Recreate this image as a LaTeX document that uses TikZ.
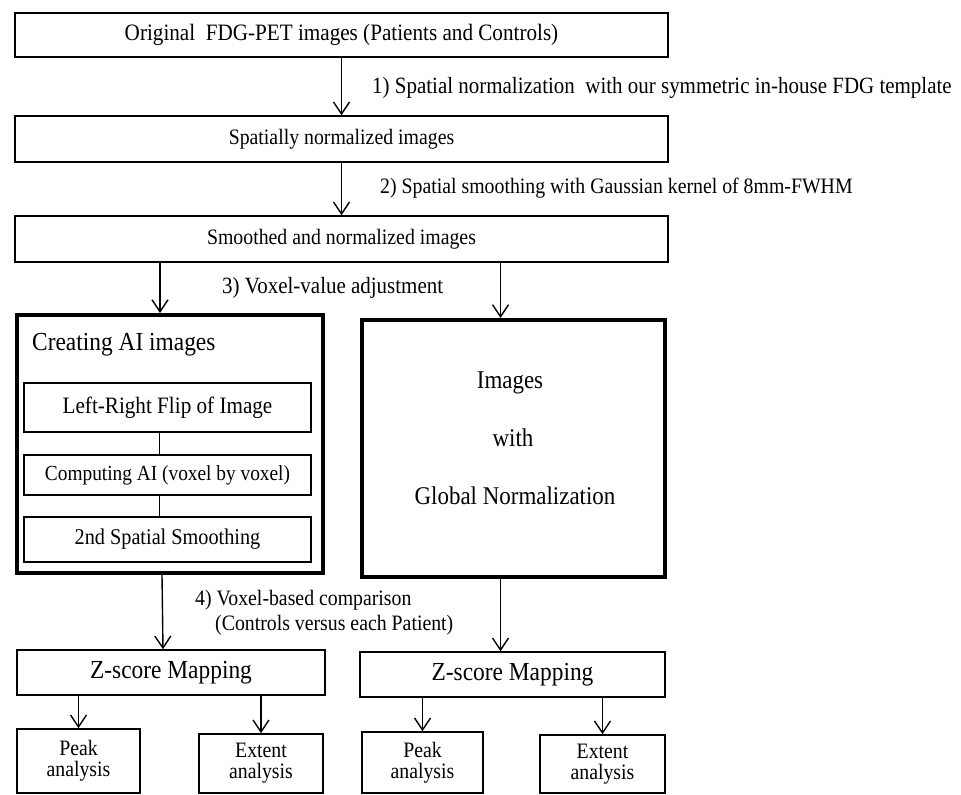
\documentclass[tikz,border=0pt]{standalone}
\usepackage{fontspec}
\setmainfont{Liberation Serif}[FakeStretch=0.9]
\usetikzlibrary{arrows.meta,positioning}

\begin{document}
\begin{tikzpicture}[
    x=1pt, y=-1pt,
    box/.style={draw=black, line width=1.5pt, inner sep=0pt, font=\fontsize{22}{26}\selectfont},
    big/.style={draw=black, line width=4pt, inner sep=0pt},
    inbox/.style={draw=black, line width=1.2pt, inner sep=0pt, minimum width=287},
    small/.style={draw=black, line width=1.6pt, inner sep=0pt, align=center, font=\fontsize{22}{21}\selectfont},
    txt/.style={inner sep=0pt, font=\fontsize{22}{26}\selectfont},
    arr/.style={-{Straight Barb[length=12pt,width=16pt]}, line width=1.4pt}]
  \useasboundingbox (0,0) rectangle (961,795);
  % main column
  \path (341.5,35)  node (b1) [box, minimum width=653, minimum height=44, font=\fontsize{23.5}{26}\selectfont] {Original\ \ FDG-PET images (Patients and Controls)}
        (341.5,139) node (b2) [box, minimum width=653, minimum height=46] {Spatially normalized images}
        (341.5,239) node (b3) [box, minimum width=653, minimum height=46] {Smoothed and normalized images};
  \path (372,88)  node (l1) [txt, anchor=west, font=\fontsize{23.3}{26}\selectfont] {1) Spatial normalization\ \ with our symmetric in-house FDG template}
        (380,188) node (l2) [txt, anchor=west] {2) Spatial smoothing with Gaussian kernel of 8mm-FWHM}
        (222,288) node (l3) [txt, anchor=west, font=\fontsize{23.3}{26}\selectfont] {3) Voxel-value adjustment};
  \draw [arr] (b1) -- (b2);
  \draw [arr] (b2) -- (b3);
  % AI branch
  \path (170,444) node (ai) [big, minimum width=306, minimum height=258] {}
        (32,345)  node (ait) [txt, anchor=west, font=\fontsize{26}{29}\selectfont] {Creating AI images}
        (167.5,407.5) node (f1) [inbox, minimum height=49, font=\fontsize{23.5}{26}\selectfont] {Left-Right Flip of Image}
        (167.5,475)   node (f2) [inbox, minimum height=40, font=\fontsize{21.5}{24}\selectfont] {Computing AI (voxel by voxel)}
        (167.5,539.5) node (f3) [inbox, minimum height=45, font=\fontsize{22.5}{25}\selectfont] {2nd Spatial Smoothing};
  \draw [line width=0.8pt] ([xshift=-8pt]f1.south) -- ([xshift=-8pt]f2.north);
  \draw [line width=0.8pt] ([xshift=-8pt]f2.south) -- ([xshift=-8pt]f3.north);
  % global branch
  \path (513.5,448.5) node (gn) [big, minimum width=303, minimum height=257] {}
        (510,383) node (g1) [txt, font=\fontsize{25.5}{28}\selectfont] {Images}
        (513,438) node (g2) [txt, font=\fontsize{25.5}{28}\selectfont] {with}
        (515,496) node (g3) [txt, font=\fontsize{25.5}{28}\selectfont] {Global Normalization};
  \draw [arr] ([xshift=-10pt]ai.north |- b3.south) -- ([xshift=-10pt]ai.north);
  \draw [arr] ([xshift=-13pt]gn.north |- b3.south) -- ([xshift=-13pt]gn.north);
  % comparison
  \path (195,600) node (l4) [txt, anchor=west] {4) Voxel-based comparison}
        (215,625) node (l5) [txt, anchor=west] {(Controls versus each Patient)};
  \path (171,672.5)   node (z1) [box, minimum width=308, minimum height=45, font=\fontsize{26}{29}\selectfont] {Z-score Mapping}
        (512.5,674.5) node (z2) [box, minimum width=305, minimum height=45, font=\fontsize{26}{29}\selectfont] {Z-score Mapping};
  \draw [arr] ([xshift=-8pt]ai.south) -- ([xshift=-8pt]z1.north);
  \draw [arr] ([xshift=-13pt]gn.south) -- ([xshift=-13pt]gn.south |- z2.north);
  % analyses
  \path (78.5,761)   node (p1) [small, minimum width=123, minimum height=64] {Peak\\analysis}
        (261,763.5)  node (e1) [small, minimum width=124, minimum height=59] {Extent\\analysis}
        (422.5,762.5) node (p2) [small, minimum width=121, minimum height=61] {Peak\\analysis}
        (602.5,764)  node (e2) [small, minimum width=125, minimum height=58] {Extent\\analysis};
  \foreach \a/\z in {p1/z1, e1/z1, p2/z2, e2/z2}
    \draw [arr] (\a.north |- \z.south) -- (\a.north);
\end{tikzpicture}
\end{document}
